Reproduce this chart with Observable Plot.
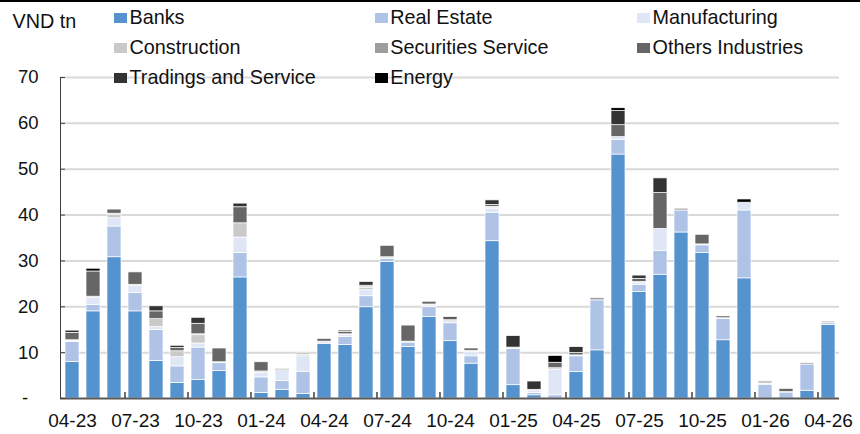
<!DOCTYPE html>
<html>
<head>
<meta charset="utf-8">
<script src="https://cdn.jsdelivr.net/npm/d3@7"></script>
<script src="https://cdn.jsdelivr.net/npm/@observablehq/plot@0.6"></script>
<style>
  body { margin: 0; background: #fff; }
  #chart { position: relative; width: 860px; height: 434px; font-family: "Liberation Sans", Arial, sans-serif; color: #111; }
  #chart svg { position: absolute; left: 0; top: 0; }
  #topline { position: absolute; left: 0; top: 0; width: 860px; height: 2px; background: #000; }
  .txt { position: absolute; font-size: 19.8px; line-height: 19px; white-space: nowrap; color: #111; }
  .sw { position: absolute; width: 13px; height: 10px; }
</style>
</head>
<body>
<div id="chart"></div>
<script>
// Monthly issuance by sector, VND trillion
const months = [
  "04-23","05-23","06-23","07-23","08-23","09-23","10-23","11-23","12-23",
  "01-24","02-24","03-24","04-24","05-24","06-24","07-24","08-24","09-24","10-24","11-24","12-24",
  "01-25","02-25","03-25","04-25","05-25","06-25","07-25","08-25","09-25","10-25","11-25","12-25",
  "01-26","02-26","03-26","04-26"
];
const tickMonths = ["04-23","07-23","10-23","01-24","04-24","07-24","10-24","01-25","04-25","07-25","10-25","01-26","04-26"];
const yTicks = [0, 10, 20, 30, 40, 50, 60, 70];

const sectors = ["Banks", "Real Estate", "Manufacturing", "Construction", "Securities Service", "Others Industries", "Tradings and Service", "Energy"];
const sectorColors = ["#5593cf", "#aec3e6", "#dfe6f6", "#c9c9c9", "#9e9e9e", "#666666", "#333333", "#000000"];

const banks         = [8.0, 19.0, 30.8, 19.0, 8.2, 3.4, 4.0, 6.0, 26.4, 1.2, 1.9, 1.0, 11.9, 11.7, 19.9, 29.8, 11.2, 17.8, 12.5, 7.6, 34.3, 2.9, 0.7, 0.0, 5.8, 10.5, 53.2, 23.2, 27.0, 36.2, 31.7, 12.7, 26.2, 0.0, 0.0, 1.7, 16.0];
const realEstate    = [4.3, 1.4, 6.7, 4.0, 6.7, 3.6, 7.1, 1.7, 5.3, 3.4, 1.9, 4.8, 0.3, 1.7, 2.4, 0.6, 1.0, 2.1, 3.9, 1.6, 6.2, 7.9, 0.5, 0.7, 3.4, 10.9, 3.2, 1.6, 5.2, 4.8, 1.7, 4.6, 14.8, 3.0, 1.3, 5.7, 0.4];
const manufacturing = [0.3, 1.5, 1.8, 1.6, 0.7, 2.0, 0.9, 0.2, 3.4, 1.0, 2.2, 3.4, 0.2, 0.4, 1.3, 0.4, 0.2, 0.4, 0.5, 1.0, 0.9, 0.3, 0.4, 5.6, 0.2, 0.0, 0.6, 0.4, 4.8, 0.0, 0.2, 0.2, 1.7, 0.2, 0.1, 0.0, 0.0];
const construction  = [0.1, 0.3, 0.8, 0.2, 1.7, 1.3, 1.8, 0.0, 3.1, 0.3, 0.0, 0.3, 0.0, 0.2, 0.5, 0.0, 0.0, 0.2, 0.0, 0.2, 0.2, 0.0, 0.3, 0.3, 0.0, 0.0, 0.0, 0.2, 0.0, 0.0, 0.0, 0.0, 0.0, 0.6, 0.0, 0.0, 0.4];
const securities    = [0.0, 0.0, 0.2, 0.0, 0.0, 0.0, 0.2, 0.0, 0.0, 0.0, 0.0, 0.3, 0.0, 0.0, 0.2, 0.0, 0.0, 0.0, 0.0, 0.0, 0.2, 0.0, 0.0, 0.0, 0.0, 0.5, 0.0, 0.0, 0.0, 0.4, 0.0, 0.0, 0.0, 0.0, 0.0, 0.3, 0.0];
const others        = [1.6, 5.5, 0.9, 2.7, 1.7, 0.7, 2.3, 3.0, 3.5, 2.0, 0.2, 0.0, 0.6, 0.5, 0.3, 2.5, 3.5, 0.6, 0.3, 0.5, 0.4, 0.0, 0.0, 1.2, 0.5, 0.0, 2.6, 0.7, 7.8, 0.0, 2.1, 0.4, 0.0, 0.0, 0.7, 0.0, 0.0];
const tradings      = [0.5, 0.0, 0.0, 0.0, 1.1, 0.5, 1.3, 0.0, 0.8, 0.0, 0.2, 0.0, 0.0, 0.3, 0.8, 0.0, 0.0, 0.0, 0.5, 0.0, 1.0, 2.5, 1.8, 0.0, 1.3, 0.0, 3.1, 0.7, 3.2, 0.0, 0.0, 0.0, 0.0, 0.0, 0.0, 0.0, 0.0];
const energy        = [0.0, 0.6, 0.0, 0.0, 0.0, 0.0, 0.0, 0.0, 0.0, 0.0, 0.0, 0.0, 0.0, 0.0, 0.0, 0.0, 0.0, 0.0, 0.0, 0.0, 0.0, 0.0, 0.0, 1.5, 0.0, 0.0, 0.6, 0.0, 0.0, 0.0, 0.0, 0.0, 0.7, 0.0, 0.0, 0.0, 0.0];

const seriesValues = [banks, realEstate, manufacturing, construction, securities, others, tradings, energy];

// long format: one row per month and sector, stacked bottom-up in sector order
const rows = months.flatMap((month, i) =>
  sectors.map((sector, j) => ({month, sector, value: seriesValues[j][i]}))
);

const W = 860, H = 434;
const margin = {top: 77, right: 21, bottom: 36, left: 60};
const innerW = W - margin.left - margin.right;
const innerH = H - margin.top - margin.bottom;
const padInner = 0.334, padOuter = 0.19;
const step = innerW / (months.length - padInner + 2 * padOuter);

const chart = Plot.plot({
  width: W,
  height: H,
  marginTop: margin.top,
  marginRight: margin.right,
  marginBottom: margin.bottom,
  marginLeft: margin.left,
  style: {fontFamily: '"Liberation Sans", Arial, sans-serif', fontSize: "18px", color: "#111", background: "transparent", overflow: "visible"},
  x: {domain: months, paddingInner: padInner, paddingOuter: padOuter, label: null},
  y: {domain: [0, 70], label: null},
  color: {domain: sectors, range: sectorColors},
  marks: [
    Plot.ruleY(yTicks.filter(d => d > 0), {stroke: "#d9d9d9", strokeWidth: 2}),
    Plot.barY(rows, {x: "month", y: "value", fill: "sector", stroke: "#fff", strokeWidth: 0.7}),
    Plot.ruleY([0], {stroke: "#595959", strokeWidth: 2}),
    Plot.frame({anchor: "left", stroke: "#404040"}),
    Plot.tickY(yTicks, {y: d => d, stroke: "#404040", insetRight: innerW - 5}),
    Plot.tickX(tickMonths.slice(1), {x: d => d, dx: -step / 2, stroke: "#404040", strokeWidth: 1.5, insetTop: innerH - 6}),
    Plot.axisY({ticks: yTicks, tickSize: 0, tickPadding: 22, fontSize: 18.5, tickFormat: d => d === 0 ? "-\u00a0\u00a0" : String(d)}),
    Plot.axisX({ticks: tickMonths, tickSize: 0, tickPadding: 15, fontSize: 19})
  ]
});

const root = document.getElementById("chart");
root.appendChild(chart);

const line = document.createElement("div");
line.id = "topline";
root.appendChild(line);

// unit label
const unit = document.createElement("div");
unit.className = "txt";
unit.textContent = "VND tn";
unit.style.left = "12.5px";
unit.style.top = "11.8px";
root.appendChild(unit);

// legend: three columns, row-major
const colSwatch = [114.3, 375, 637.3];
const rowTop = [12.7, 43.2, 73.2];
sectors.forEach((name, i) => {
  const c = i % 3, r = Math.floor(i / 3);
  const sw = document.createElement("div");
  sw.className = "sw";
  sw.style.left = colSwatch[c] + "px";
  sw.style.top = rowTop[r] + "px";
  sw.style.background = sectorColors[i];
  root.appendChild(sw);
  const t = document.createElement("div");
  t.className = "txt";
  t.textContent = name;
  t.style.left = (colSwatch[c] + 15.2) + "px";
  t.style.top = (rowTop[r] - 5.1) + "px";
  root.appendChild(t);
});
</script>
</body>
</html>
